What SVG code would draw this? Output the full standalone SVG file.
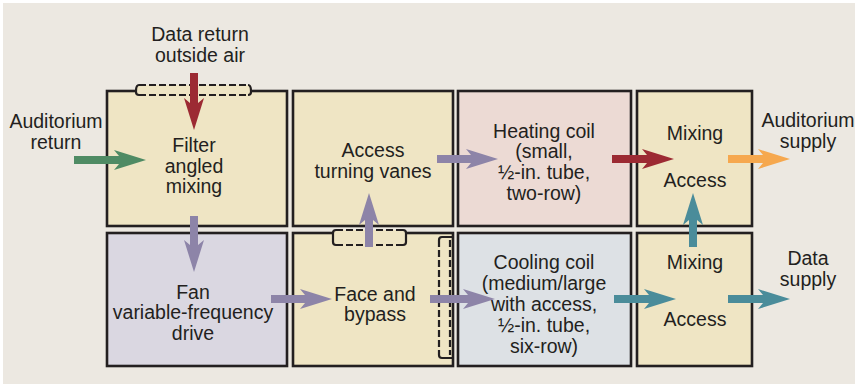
<svg xmlns="http://www.w3.org/2000/svg" width="859" height="387" viewBox="0 0 859 387">
<style>
.bg{fill:#ECE8E1}
.box{stroke:#231F20;stroke-width:2.6}
.y{fill:#EFE5C4}
.p{fill:#DAD7E1}
.h{fill:#ECDAD4}
.c{fill:#DDE1E5}
.dash{stroke:#231F20;stroke-width:2.2;stroke-dasharray:7 3;fill:none}
.solid{stroke:#231F20;stroke-width:2.2;fill:none}
text{font-family:"Liberation Sans Narrow","Liberation Sans",Arial,sans-serif;font-size:19.5px;fill:#231F20;text-anchor:middle}
</style>
<rect x="0" y="0" width="859" height="387" fill="#FFFFFF"/>
<rect class="bg" x="3" y="3" width="852" height="381"/>

<g id="filter">
<rect class="box y" x="107" y="91" width="180" height="135"/>
<rect x="136" y="85" width="115" height="10" fill="#EFE5C4"/>
<path class="dash" d="M139 85 H248 M139 95 H248"/>
<path class="solid" d="M136 91 V92 Q136 95 139 95 M251 91 V92 Q251 95 248 95 M136 91 Q136 85 139 85 M251 91 Q251 85 248 85"/>
<text x="194" y="152">Filter</text>
<text x="194" y="173">angled</text>
<text x="194" y="193">mixing</text>
</g>

<g id="turning-vanes">
<rect class="box y" x="293" y="91" width="160" height="135"/>
<text x="373" y="157">Access</text>
<text x="373" y="178">turning vanes</text>
</g>

<g id="heating-coil">
<rect class="box h" x="458" y="91" width="173" height="135"/>
<text x="544" y="138">Heating coil</text>
<text x="544" y="158">(small,</text>
<text x="544" y="179">½-in. tube,</text>
<text x="544" y="200">two-row)</text>
</g>

<g id="mixing-top">
<rect class="box y" x="637" y="91" width="115" height="135"/>
<text x="695" y="140">Mixing</text>
<text x="695" y="187">Access</text>
</g>

<g id="fan">
<rect class="box p" x="107" y="233" width="180" height="133"/>
<text x="193" y="299">Fan</text>
<text x="193" y="319">variable-frequency</text>
<text x="193" y="340">drive</text>
</g>

<g id="face-bypass">
<rect class="box y" x="293" y="233" width="160" height="133"/>
<rect x="333" y="230" width="73" height="15" fill="#EFE5C4"/>
<path class="dash" d="M336 230 H403 M336 245 H403"/>
<path class="solid" d="M333 233 V242 Q333 245 336 245 M406 233 V242 Q406 245 403 245 M333 233 Q333 230 336 230 M406 233 Q406 230 403 230"/>
<path class="dash" d="M439 240 V355 M450 240 V355"/>
<path class="solid" d="M439 240 Q439 237 442 237 H452 M439 355 Q439 358 442 358 H452"/>
<text x="375" y="301">Face and</text>
<text x="375" y="321">bypass</text>
</g>

<g id="cooling-coil">
<rect class="box c" x="458" y="233" width="173" height="133"/>
<text x="544" y="269">Cooling coil</text>
<text x="544" y="290">(medium/large</text>
<text x="544" y="311">with access,</text>
<text x="544" y="332">½-in. tube,</text>
<text x="544" y="353">six-row)</text>
</g>

<g id="mixing-bottom">
<rect class="box y" x="637" y="233" width="115" height="133"/>
<text x="695" y="269">Mixing</text>
<text x="695" y="326">Access</text>
</g>

<g id="labels">
<text x="200" y="41">Data return</text>
<text x="200" y="62">outside air</text>
<text x="56" y="128">Auditorium</text>
<text x="56" y="149">return</text>
<text x="808" y="127">Auditorium</text>
<text x="808" y="148">supply</text>
<text x="808" y="265">Data</text>
<text x="808" y="286">supply</text>
</g>

<g id="connectors">
<polygon fill="#4F8B64" points="74,156 119,156 114,150 146,160 114,170 119,164 74,164"/>
<polygon fill="#9C2A33" points="190,73 190,103 184,98 194,130 204,98 198,103 198,73"/>
<polygon fill="#8D84A8" points="190,216 190,245 184,240 194,272 204,240 198,245 198,216"/>
<polygon fill="#8D84A8" points="271,295 305,295 300,289 332,299 300,309 305,303 271,303"/>
<polygon fill="#8D84A8" points="365,247 365,220 359,225 369,193 379,225 373,220 373,247"/>
<polygon fill="#8D84A8" points="437,155 471,155 466,149 498,159 466,169 471,163 437,163"/>
<polygon fill="#8D84A8" points="430,295 468,295 463,289 495,299 463,309 468,303 430,303"/>
<polygon fill="#9C2A33" points="612,155 647,155 642,149 674,159 642,169 647,163 612,163"/>
<polygon fill="#F6A84E" points="728,155 763,155 758,149 790,159 758,169 763,163 728,163"/>
<polygon fill="#4A8C9A" points="689,247 689,220 683,225 693,193 703,225 697,220 697,247"/>
<polygon fill="#4A8C9A" points="614,295 649,295 644,289 676,299 644,309 649,303 614,303"/>
<polygon fill="#4A8C9A" points="728,295 763,295 758,289 790,299 758,309 763,303 728,303"/>
</g>
</svg>
